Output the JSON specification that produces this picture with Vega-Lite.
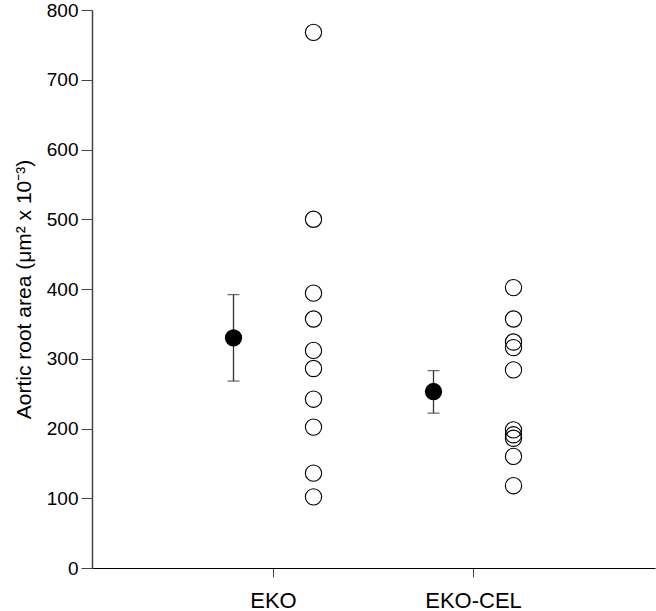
{
  "$schema": "https://vega.github.io/schema/vega-lite/v6.json",
  "width": 563,
  "height": 558,
  "autosize": "none",
  "padding": {"left": 92, "top": 10, "right": 1, "bottom": 43},
  "background": "white",
  "config": {
    "view": {"stroke": null},
    "font": "Liberation Sans",
    "axis": {"grid": false, "labelFont": "Liberation Sans", "titleFont": "Liberation Sans", "labelColor": "#000", "titleColor": "#000"}
  },
  "datasets": {
    "points": [
      {"group": "EKO", "kind": "individual", "area": 768},
      {"group": "EKO", "kind": "individual", "area": 500},
      {"group": "EKO", "kind": "individual", "area": 394},
      {"group": "EKO", "kind": "individual", "area": 357},
      {"group": "EKO", "kind": "individual", "area": 312},
      {"group": "EKO", "kind": "individual", "area": 286},
      {"group": "EKO", "kind": "individual", "area": 242},
      {"group": "EKO", "kind": "individual", "area": 202},
      {"group": "EKO", "kind": "individual", "area": 136},
      {"group": "EKO", "kind": "individual", "area": 102},
      {"group": "EKO-CEL", "kind": "individual", "area": 402},
      {"group": "EKO-CEL", "kind": "individual", "area": 357},
      {"group": "EKO-CEL", "kind": "individual", "area": 324},
      {"group": "EKO-CEL", "kind": "individual", "area": 316},
      {"group": "EKO-CEL", "kind": "individual", "area": 284},
      {"group": "EKO-CEL", "kind": "individual", "area": 198},
      {"group": "EKO-CEL", "kind": "individual", "area": 191},
      {"group": "EKO-CEL", "kind": "individual", "area": 186},
      {"group": "EKO-CEL", "kind": "individual", "area": 160},
      {"group": "EKO-CEL", "kind": "individual", "area": 118}
    ],
    "summary": [
      {"group": "EKO", "kind": "mean", "mean": 330, "lo": 268, "hi": 392},
      {"group": "EKO-CEL", "kind": "mean", "mean": 253, "lo": 222, "hi": 283}
    ]
  },
  "encoding": {
    "x": {
      "field": "group",
      "type": "nominal",
      "scale": {"type": "band", "domain": ["EKO", "EKO-CEL"], "paddingInner": 0.2, "paddingOuter": 0.5075},
      "axis": {
        "title": null,
        "labelAngle": 0,
        "labelFontSize": 22,
        "labelPadding": 13,
        "tickSize": 9,
        "tickColor": "#444",
        "domainColor": "#000",
        "domainWidth": 1.2
      }
    },
    "xOffset": {
      "field": "kind",
      "type": "nominal",
      "scale": {"type": "point", "domain": ["mean", "individual"], "padding": 0.5}
    }
  },
  "layer": [
    {
      "data": {"name": "summary"},
      "mark": {"type": "rule", "color": "#333", "strokeWidth": 1.3},
      "encoding": {
        "y": {"field": "lo", "type": "quantitative"},
        "y2": {"field": "hi"}
      }
    },
    {
      "data": {"name": "summary"},
      "mark": {"type": "tick", "color": "#333", "size": 12, "thickness": 1.3},
      "encoding": {"y": {"field": "lo", "type": "quantitative"}}
    },
    {
      "data": {"name": "summary"},
      "mark": {"type": "tick", "color": "#333", "size": 12, "thickness": 1.3},
      "encoding": {"y": {"field": "hi", "type": "quantitative"}}
    },
    {
      "data": {"name": "summary"},
      "mark": {"type": "circle", "color": "#000", "opacity": 1, "size": 300},
      "encoding": {"y": {"field": "mean", "type": "quantitative"}}
    },
    {
      "data": {"name": "points"},
      "mark": {"type": "point", "shape": "circle", "filled": false, "color": "#000", "strokeWidth": 1.1, "opacity": 1, "size": 265},
      "encoding": {
        "y": {
          "field": "area",
          "type": "quantitative",
          "scale": {"domain": [0, 800], "nice": false, "zero": true},
          "axis": {
            "title": "Aortic root area (μm² x 10⁻³)",
            "titleFontSize": 21,
            "titleFontWeight": "normal",
            "titlePadding": 12,
            "values": [0, 100, 200, 300, 400, 500, 600, 700, 800],
            "labelFontSize": 19,
            "labelPadding": 3,
            "tickSize": 11,
            "tickColor": "#444",
            "domainColor": "#444",
            "domainWidth": 1.5
          }
        }
      }
    }
  ]
}
